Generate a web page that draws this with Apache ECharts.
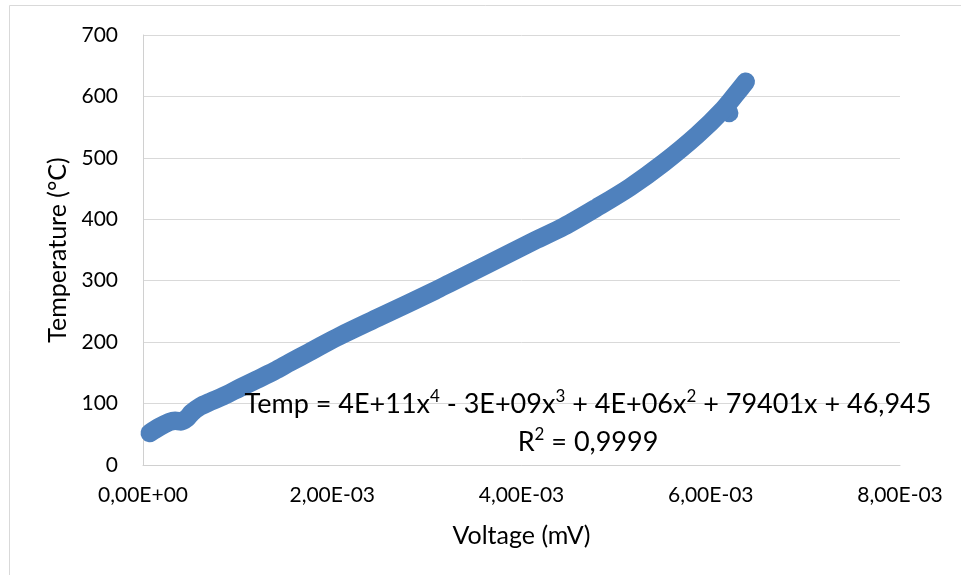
<!DOCTYPE html>
<html>
<head>
<meta charset="utf-8">
<script src="https://cdn.jsdelivr.net/npm/echarts@6/dist/echarts.min.js"></script>
<style>
html,body{margin:0;padding:0;background:#fff;}
#chart{width:961px;height:575px;}
</style>
</head>
<body>
<div id="chart"></div>
<script>
// Voltage values (axis units as shown, E-03 scale)
const voltage = [0.000072, 0.000175, 0.000278, 0.00034, 0.000401, 0.000463, 0.000515, 0.000602, 0.00072, 0.000849, 0.001029, 0.001204, 0.001389, 0.001554, 0.001749, 0.001904, 0.002079, 0.002501, 0.003087, 0.003242, 0.003633, 0.004137, 0.004446, 0.004795, 0.005145, 0.005495, 0.005855, 0.006133, 0.006308, 0.00637];
const temperature = [52, 62, 70, 72, 71, 76, 85, 95, 103.5, 112, 126, 139, 153, 167, 183, 196, 210, 241, 284, 296, 326, 365, 388, 419, 452, 491, 537, 579, 612, 624];
const outlierVoltage = [0.006195];
const outlierTemperature = [573];
const xTickLabels = ['0,00E+00', '2,00E-03', '4,00E-03', '6,00E-03', '8,00E-03'];
const yTickLabels = ['0', '100', '200', '300', '400', '500', '600', '700'];
const equationParts = ['Temp = 4E+11x', '4', ' - 3E+09x', '3', ' + 4E+06x', '2', ' + 79401x + 46,945'];
const r2Parts = ['R', '2', ' = 0,9999'];

const FONT = 'Lato';
const BLUE = '#4f81bd';

const mainData = voltage.map((v, i) => [v, temperature[i]]);
const outData = outlierVoltage.map((v, i) => [v, outlierTemperature[i]]);

function richLine(parts) {
  return parts.map((p, i) => (i % 2 === 0 ? '{n|' + p + '}' : '{s|' + p + '}')).join('');
}

const chart = echarts.init(document.getElementById('chart'), null, {renderer: 'canvas'});
chart.setOption({
  animation: false,
  backgroundColor: '#fff',
  grid: {left: 143, right: 61, top: 35, bottom: 110, containLabel: false},
  xAxis: {
    type: 'value', min: 0, max: 0.008, interval: 0.002,
    name: 'Voltage (mV)', nameLocation: 'middle', nameGap: 58,
    nameTextStyle: {fontFamily: FONT, fontSize: 25, color: '#000'},
    axisLine: {show: true, lineStyle: {color: '#d0d0d0', width: 1}},
    axisTick: {show: false},
    splitLine: {show: false},
    axisLabel: {
      fontFamily: FONT, fontSize: 21, color: '#000', margin: 20,
      formatter: v => xTickLabels[Math.round(v / 0.002)]
    }
  },
  yAxis: {
    type: 'value', min: 0, max: 700, interval: 100,
    name: 'Temperature (°C)', nameLocation: 'middle', nameGap: 65, nameRotate: 90,
    nameTextStyle: {fontFamily: FONT, fontSize: 25, color: '#000'},
    axisLine: {show: true, lineStyle: {color: '#d0d0d0', width: 1}},
    axisTick: {show: false},
    splitLine: {show: true, lineStyle: {color: '#d9d9d9', width: 1}},
    axisLabel: {
      fontFamily: FONT, fontSize: 21, color: '#000', margin: 25,
      formatter: v => yTickLabels[Math.round(v / 100)]
    }
  },
  series: [
    {
      type: 'line', data: mainData, showSymbol: false, symbol: 'none',
      smooth: 0.3,
      lineStyle: {color: BLUE, width: 18.5, cap: 'round', join: 'round'},
      z: 3
    },
    {
      type: 'scatter', data: outData, symbol: 'circle', symbolSize: 18.5,
      itemStyle: {color: BLUE, opacity: 1}, z: 2
    }
  ],
  graphic: [
    {
      type: 'rect', silent: true, z: -10,
      shape: {x: 9.5, y: 5.5, width: 1000, height: 1000},
      style: {fill: 'none', stroke: '#d9d9d9', lineWidth: 1}
    },
    {
      type: 'text', z: 100, x: 588, y: 385,
      style: {
        text: richLine(equationParts) + '\n' + richLine(r2Parts),
        align: 'center', verticalAlign: 'top',
        rich: {
          n: {fontFamily: FONT, fontSize: 27, lineHeight: 38, fill: '#000', color: '#000'},
          s: {fontFamily: FONT, fontSize: 17, lineHeight: 20, verticalAlign: 'top', padding: [3, 0, 0, 0], fill: '#000', color: '#000'}
        }
      }
    }
  ]
});
</script>
</body>
</html>
